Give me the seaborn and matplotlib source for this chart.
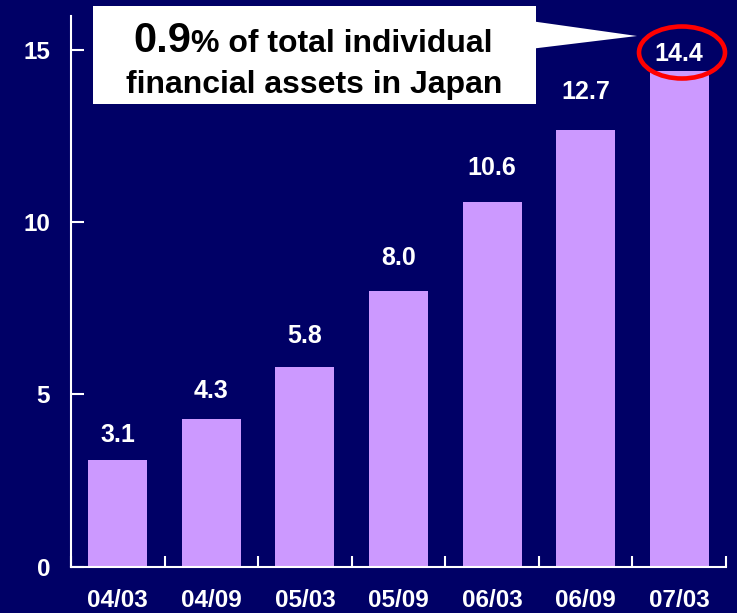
import matplotlib
matplotlib.use("Agg")
import matplotlib.pyplot as plt
from matplotlib.patches import Rectangle, Polygon, Ellipse
from matplotlib.ticker import FixedLocator
import pandas as pd
import seaborn as sns

# Balance at each half-year end (trillion yen)
periods = ["04/03", "04/09", "05/03", "05/09", "06/03", "06/09", "07/03"]
balances = [3.1, 4.3, 5.8, 8.0, 10.6, 12.7, 14.4]
label_gap_px = [18, 21, 24, 26, 27, 31, 10]   # space between bar top and label baseline
y_ticks = [0, 5, 10, 15]

callout_big = "0.9"
callout_line1 = "% of total individual"
callout_line2 = "financial assets in Japan"

NAVY = "#000066"
BAR = "#CC99FF"
W, H, DPI = 737, 613, 100

sns.set_theme(style="white")
plt.rcParams["font.family"] = ["Liberation Sans", "DejaVu Sans"]
plt.rcParams["font.weight"] = "bold"

fig = plt.figure(figsize=(W / DPI, H / DPI), dpi=DPI, facecolor=NAVY)
ax = fig.add_axes([71 / W, 1 - 566.5 / H, (726 - 71) / W, (566.5 - 16) / H])
ax.set_facecolor(NAVY)

df = pd.DataFrame({"period": periods, "balance": balances})
sns.barplot(data=df, x="period", y="balance", color=BAR, saturation=1,
            width=0.63, ax=ax, edgecolor="none")

ax.set_xlim(-0.5, len(periods) - 0.5)
ax.set_ylim(0, 16)
ax.set_xlabel("")
ax.set_ylabel("")

for s in ("top", "right"):
    ax.spines[s].set_visible(False)
for s in ("left", "bottom"):
    ax.spines[s].set_color("white")
    ax.spines[s].set_linewidth(1.5)

ax.set_yticks(y_ticks)
ax.set_yticklabels([str(t) for t in y_ticks])
ax.tick_params(axis="y", direction="in", length=9, width=1.5, color="white",
               labelcolor="white", labelsize=17.5, pad=15, left=True)
ax.tick_params(axis="x", which="major", length=0, labelcolor="white",
               labelsize=17.5, pad=16, bottom=True)
ax.xaxis.set_minor_locator(FixedLocator([i - 0.5 for i in range(len(periods) + 1)]))
ax.tick_params(axis="x", which="minor", direction="in", length=8, width=1.5,
               color="white", bottom=True)
for lab in ax.get_xticklabels() + ax.get_yticklabels():
    lab.set_fontweight("bold")

# value labels above the bars
for i, (v, gap) in enumerate(zip(balances, label_gap_px)):
    ax.annotate(f"{v:.1f}", xy=(i, v), xytext=(0, gap * 72 / DPI),
                textcoords="offset points", ha="center", va="baseline",
                color="white", fontsize=18, fontweight="bold")


def fpos(x, y):
    return (x / W, 1 - y / H)


# callout box with pointer
tf = fig.transFigure
fig.patches.append(Rectangle(fpos(93, 104), (536 - 93) / W, (104 - 6) / H,
                             transform=tf, facecolor="white", edgecolor="none",
                             zorder=5))
fig.patches.append(Polygon([fpos(534, 21.5), fpos(637, 36), fpos(534, 48.5)],
                           closed=True, transform=tf, facecolor="white",
                           edgecolor="none", zorder=5))
fig.text(*fpos(133, 52), callout_big, transform=tf, ha="left", va="baseline",
         fontsize=30, fontweight="bold", color="black", zorder=6)
fig.text(*fpos(191, 52), callout_line1, transform=tf, ha="left", va="baseline",
         fontsize=23, fontweight="bold", color="black", zorder=6)
fig.text(*fpos(314, 93), callout_line2, transform=tf, ha="center", va="baseline",
         fontsize=23, fontweight="bold", color="black", zorder=6)

# red ring around the latest value
fig.patches.append(Ellipse(fpos(682, 52.5), 86 / W, 52 / H, transform=tf,
                           facecolor="none", edgecolor="#FF0000",
                           linewidth=3.3, zorder=7))

fig.savefig("out.png", dpi=DPI, facecolor=NAVY)
